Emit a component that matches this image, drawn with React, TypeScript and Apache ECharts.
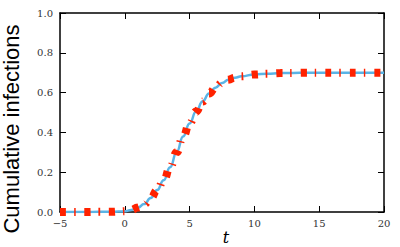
import React, { useEffect, useRef } from "react";
import * as echarts from "echarts";

const timeValues = [-5, -4, -3, -2, -1, -0.5, 0, 0.5, 1, 1.5, 2, 2.5, 3, 3.5, 4, 4.5, 5, 5.5, 6, 6.5, 7, 7.5, 8, 8.5, 9, 10, 11, 12, 13, 14, 15, 16, 17, 18, 19, 20];
const cumulativeInfections = [0.0, 0.0, 0.0, 0.001, 0.001, 0.002, 0.004, 0.01, 0.022, 0.04, 0.07, 0.11, 0.16, 0.225, 0.3, 0.38, 0.445, 0.505, 0.555, 0.595, 0.625, 0.648, 0.665, 0.675, 0.682, 0.691, 0.695, 0.698, 0.699, 0.7, 0.7, 0.7, 0.7, 0.7, 0.7, 0.7];
const xTicks = { min: -5, max: 20, interval: 5 };
const yTicks = { min: 0, max: 1, interval: 0.2 };
const yTitle = "Cumulative infections";
const xTitle = "t";

export default function App() {
  const ref = useRef<HTMLDivElement>(null);
  useEffect(() => {
    if (!ref.current) return;
    const chart = echarts.init(ref.current, null, { renderer: "svg" });
    const pts = timeValues.map((t, i) => [t, cumulativeInfections[i]]);
    const labelFont = { fontFamily: "DejaVu Serif", fontSize: 10, color: "#333" };
    const axisLine = { show: true, onZero: false, lineStyle: { color: "#000", width: 1.5 } };
    const tick = { show: true, inside: true, length: 6, lineStyle: { color: "#000", width: 1 } };
    chart.setOption({
      animation: false,
      grid: { left: 60, right: 16, top: 13, bottom: 35, containLabel: false, outerBoundsMode: "none" },
      xAxis: [
        {
          type: "value", ...xTicks, position: "bottom",
          axisLine, axisTick: tick, splitLine: { show: false },
          axisLabel: { ...labelFont, margin: 6, formatter: (v: number) => String(v).replace("-", "\u2212") },
        },
        {
          type: "value", ...xTicks, position: "top",
          axisLine, axisTick: tick, splitLine: { show: false }, axisLabel: { show: false },
        },
      ],
      yAxis: [
        {
          type: "value", ...yTicks, position: "left",
          axisLine, axisTick: tick, splitLine: { show: false },
          axisLabel: { ...labelFont, margin: 7, formatter: (v: number) => v.toFixed(1) },
        },
        {
          type: "value", ...yTicks, position: "right",
          axisLine, axisTick: tick, splitLine: { show: false }, axisLabel: { show: false },
        },
      ],
      graphic: [
        {
          type: "text", x: 11, y: 129, rotation: Math.PI / 2,
          style: { text: yTitle, font: "22px 'Liberation Sans'", fill: "#000", textAlign: "center", textVerticalAlign: "middle" },
        },
        {
          type: "text", x: 226, y: 237,
          style: { text: xTitle, font: "italic 16px 'DejaVu Serif'", fill: "#000", textAlign: "center", textVerticalAlign: "middle" },
        },
      ],
      series: [
        {
          type: "line", data: pts, smooth: true, smoothMonotone: "x", showSymbol: false,
          lineStyle: { color: "#5AB4E6", width: 2.5 }, z: 2,
        },
        {
          type: "line", data: pts, smooth: true, smoothMonotone: "x", showSymbol: false,
          lineStyle: { color: "#FF2200", width: 8, type: [6, 8, 1.5, 9], dashOffset: 0, cap: "butt" }, z: 3,
        },
      ],
    });
    return () => chart.dispose();
  }, []);
  return <div ref={ref} style={{ width: 400, height: 247, position: "absolute", left: 0, top: 0 }} />;
}
